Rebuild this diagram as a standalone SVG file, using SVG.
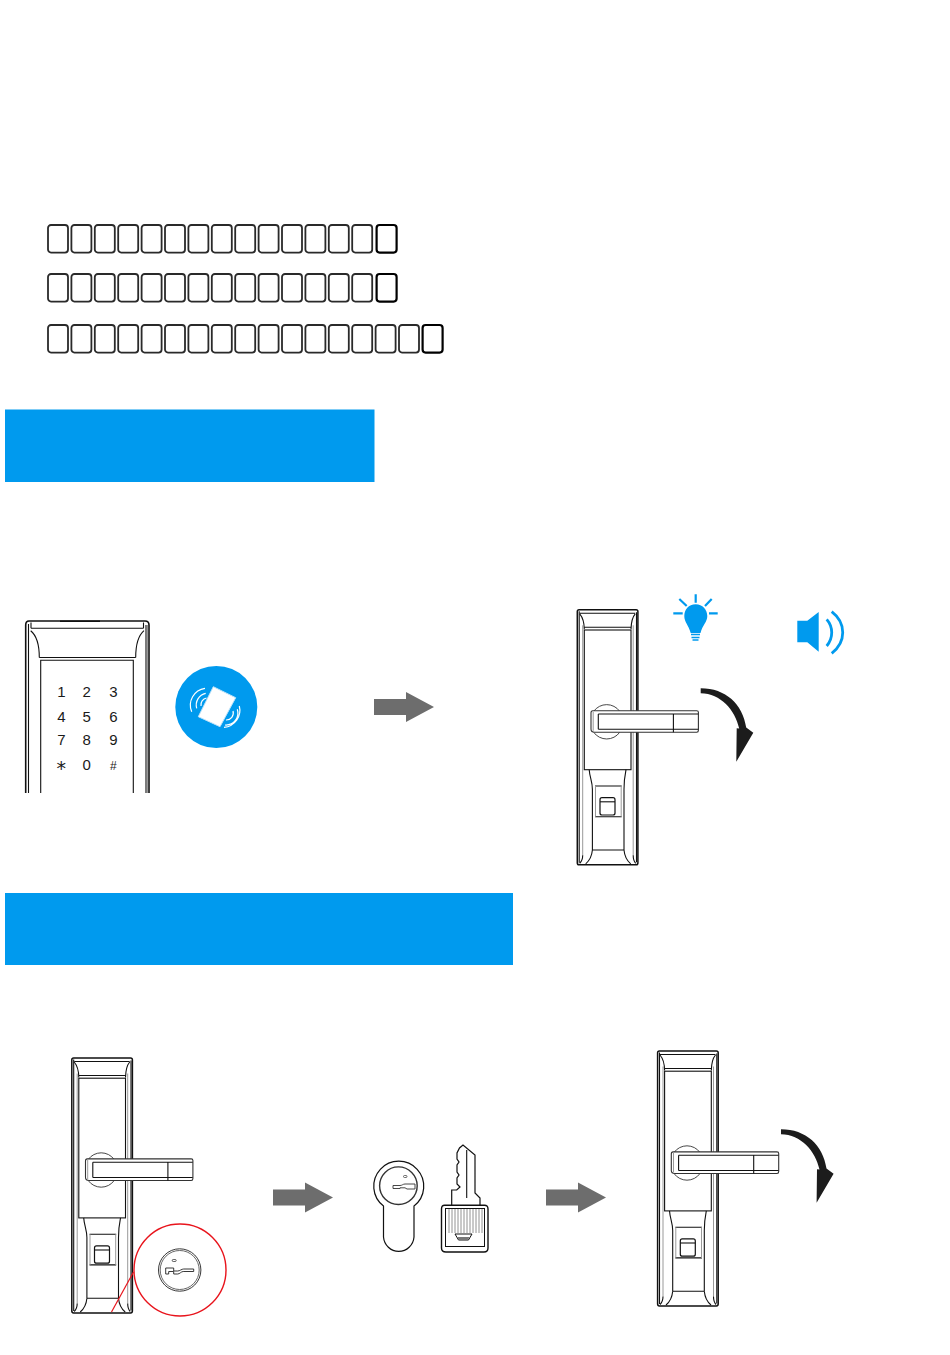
<svg xmlns="http://www.w3.org/2000/svg" xmlns:xlink="http://www.w3.org/1999/xlink" width="950" height="1355" viewBox="0 0 950 1355">
<style>
.l{fill:none;stroke:#111;stroke-width:1.1}
.t{fill:none;stroke:#999;stroke-width:1}
.b{fill:#009AEE}
.box{fill:#fff;stroke:#2a2a2a;stroke-width:1.800}
.last{stroke:#000;stroke-width:2.200}
.ar{fill:#6d6d6d}
.k{font-family:"Liberation Sans",Arial,sans-serif;font-size:15px;fill:#1a1a1a;text-anchor:middle}
.w{fill:none;stroke:#fff;stroke-width:1.200}
.bl{fill:none;stroke:#009AEE;stroke-width:2.200}
.sp{fill:none;stroke:#009AEE;stroke-width:2.800}
</style>
<defs>
<rect id="bx" width="20" height="27.600" rx="3" class="box"/>
<rect id="bxl" width="20" height="27.600" rx="3" class="box last"/>
<path id="ga" class="ar" d="M0-8H32V-15L60 0 32 15V8H0Z"/>
<path id="turn" fill="#1c1c1c" d="M0-1.800C25-1.800 42 14 45.500 37.500L52.600 42.700 35.600 71.700 36 38.300 38.500 38.600C34.500 20 20 3.500 0 3.200Z"/>
<g id="lock">
<rect x=".6" y=".4" width="60.600" height="255" rx="1.800" fill="#fff" stroke="#111" stroke-width="1.500"/>
<path class="l" d="M2.500 2V253.500M59.800 3V253"/>
<path class="t" d="M6 16V246M56.500 16V246"/>
<path class="l" d="M3 4H58.500M7 18H54.500M3 4.500C6 8 7.500 12 7.600 20M58.500 4.500C55.500 8 54.500 12 54.300 20"/>
<rect x="7.600" y="20.700" width="46.700" height="139.700" fill="#fff" stroke="#111" stroke-width="1.100"/>
<path class="l" d="M12.500 160.400C13 168 15.700 172 15.700 180V240.700M49.300 160.400C47.800 168 47.300 172 47.300 180V240.700"/>
<path class="l" d="M15.700 240.700H47.300M15.700 240.700C15 248 12 252 9 254.500M47.300 240.700C48 248 51 252 54 254.500M6 246C6 250 5 252 3 254M56.500 246C56.500 250 57 252 59 254"/>
<path d="M18.300 176.700H45M18.300 207.400H45" fill="none" stroke="#111" stroke-width="1.100"/>
<path class="t" d="M18.800 176.700V207.400M44.500 176.700V207.400"/>
<rect x="23.300" y="188.400" width="15" height="17.300" rx="2" fill="#fff" stroke="#111" stroke-width="1.200"/>
<path class="l" d="M23.300 192.500H38.300"/>
<path d="M17 102A16 16 0 0 1 43 102M17 123A16 16 0 0 0 43 123" fill="#fff" stroke="#333" stroke-width=".9"/>
<path d="M14.300 103.500Q14.300 101.400 16 101.400H120Q121.700 101.400 121.700 103V121Q121.700 123 120 123H18Q14.300 123 14.300 120Z" fill="#fff" stroke="#333" stroke-width="1.100"/>
<path class="l" d="M21.600 104.700V120M21.600 104.700H121.500M21.600 120H121.500M96.700 104.700V123"/>
<path class="t" d="M16.500 102.500V121.500"/>
</g>
<g id="keyhole">
<circle r="21.200" fill="#fff" stroke="#222" stroke-width=".9"/>
<circle r="19.500" fill="none" stroke="#555" stroke-width=".9"/>
<path d="M-14-2H-6V1H-2C0 1 2-1 4-1H14V1.500H3.500C1.500 1.500 0 4-2 4H-6V1.500H-11V4H-14Z" fill="#fff" stroke="#222" stroke-width=".9"/>
<rect x="-7.500" y="-10.500" width="4" height="2" rx="1" fill="#fff" stroke="#222" stroke-width=".7"/>
</g>
</defs>
<rect width="950" height="1355" fill="#fff"/>

<g id="text-boxes">
<g id="row1">
<use xlink:href="#bx" x="48" y="225"/><use xlink:href="#bx" x="71.400" y="225"/><use xlink:href="#bx" x="94.800" y="225"/><use xlink:href="#bx" x="118.200" y="225"/><use xlink:href="#bx" x="141.600" y="225"/><use xlink:href="#bx" x="165" y="225"/><use xlink:href="#bx" x="188.400" y="225"/><use xlink:href="#bx" x="211.800" y="225"/><use xlink:href="#bx" x="235.200" y="225"/><use xlink:href="#bx" x="258.600" y="225"/><use xlink:href="#bx" x="282" y="225"/><use xlink:href="#bx" x="305.400" y="225"/><use xlink:href="#bx" x="328.800" y="225"/><use xlink:href="#bx" x="352.200" y="225"/><use xlink:href="#bxl" x="376.600" y="225"/>
</g>
<g id="row2">
<use xlink:href="#bx" x="48" y="274"/><use xlink:href="#bx" x="71.400" y="274"/><use xlink:href="#bx" x="94.800" y="274"/><use xlink:href="#bx" x="118.200" y="274"/><use xlink:href="#bx" x="141.600" y="274"/><use xlink:href="#bx" x="165" y="274"/><use xlink:href="#bx" x="188.400" y="274"/><use xlink:href="#bx" x="211.800" y="274"/><use xlink:href="#bx" x="235.200" y="274"/><use xlink:href="#bx" x="258.600" y="274"/><use xlink:href="#bx" x="282" y="274"/><use xlink:href="#bx" x="305.400" y="274"/><use xlink:href="#bx" x="328.800" y="274"/><use xlink:href="#bx" x="352.200" y="274"/><use xlink:href="#bxl" x="376.600" y="274"/>
</g>
<g id="row3">
<use xlink:href="#bx" x="48" y="325"/><use xlink:href="#bx" x="71.400" y="325"/><use xlink:href="#bx" x="94.800" y="325"/><use xlink:href="#bx" x="118.200" y="325"/><use xlink:href="#bx" x="141.600" y="325"/><use xlink:href="#bx" x="165" y="325"/><use xlink:href="#bx" x="188.400" y="325"/><use xlink:href="#bx" x="211.800" y="325"/><use xlink:href="#bx" x="235.200" y="325"/><use xlink:href="#bx" x="258.600" y="325"/><use xlink:href="#bx" x="282" y="325"/><use xlink:href="#bx" x="305.400" y="325"/><use xlink:href="#bx" x="328.800" y="325"/><use xlink:href="#bx" x="352.200" y="325"/><use xlink:href="#bx" x="375.600" y="325"/><use xlink:href="#bx" x="399" y="325"/><use xlink:href="#bxl" x="422.600" y="325"/>
</g>
</g>

<g id="banner-1"><rect class="b" x="5" y="409.500" width="369.500" height="72.500"/></g>
<g id="banner-2"><rect class="b" x="5" y="893" width="508" height="72"/></g>

<g id="keypad-lock">
<path d="M25.700 793V625Q25.700 621 29 621H145Q149 621 149 625V793" fill="#fff" stroke="#111" stroke-width="1.600"/>
<path class="l" d="M28.500 624V793M146 625V793M31 628.300H143.500M31 622.500V628.300M143.500 622.500V628.300"/>
<path class="t" d="M147.500 625V793"/>
<path class="l" d="M30.700 630.700C36 635 39.300 645 39.300 657.500M144 630.700C139 635 135.700 645 135.700 657.500M39.300 657.500H135.700"/>
<path class="l" d="M40.700 793V660.300H133.300V793"/>
<path d="M60 621.300H100" stroke="#111" stroke-width="1.600" fill="none"/>
<text class="k" x="61.300" y="697">1</text><text class="k" x="86.700" y="697">2</text><text class="k" x="113.300" y="697">3</text>
<text class="k" x="61.300" y="721.500">4</text><text class="k" x="86.700" y="721.500">5</text><text class="k" x="113.300" y="721.500">6</text>
<text class="k" x="61.300" y="745">7</text><text class="k" x="86.700" y="745">8</text><text class="k" x="113.300" y="745">9</text>
<text class="k" x="61.300" y="775" style="font-family:'DejaVu Sans',sans-serif;font-size:19px">*</text><text class="k" x="86.700" y="770">0</text><text class="k" x="113.300" y="769.500" style="font-size:12px">#</text>
</g>

<g id="card-icon">
<circle class="b" cx="216.300" cy="707" r="41"/>
<path d="M213.300 686.700L235.700 697.700 220 726.700 198.300 716.700Z" fill="#fff" stroke="#bfe3f9" stroke-width="1"/>
<path class="w" d="M205 688.300A17 17 0 0 0 191.700 711.700M205.700 693.300A12 12 0 0 0 196.700 708.300M206.500 698A7 7 0 0 0 201 706"/>
<path class="w" d="M239.300 706A17 17 0 0 1 224 727.300M237.300 709.300A12 12 0 0 1 225 725M233 711A7 7 0 0 1 226 720"/>
</g>

<g id="bulb">
<path class="b" d="M695.700 604.300C702.500 604.300 707.300 610 707.300 616C707.300 622 702.500 625 700.500 633H690.700C688.500 625 684.300 622 684.300 616C684.300 610 688.500 604.300 695.700 604.300Z"/>
<path class="bl" d="M695.700 594.300V602.700M679.300 599L686.700 606M711.700 599L705 606M673.300 613.300H682.700M709 613.300H717.700"/>
<path class="bl" d="M691 634.500H700M691.500 637.500H699.500M692.500 640H698.500" style="stroke-width:1.600"/>
</g>

<g id="speaker">
<path class="b" d="M797.300 620.700H807.300L818.700 612V651.700L807.300 642.300H797.300Z"/>
<path class="sp" d="M826.700 619.300C833.400 627 833.400 638 826.700 646"/>
<path class="sp" d="M831.700 611.700C846.400 623 846.400 642 831.700 653.300"/>
</g>

<g id="lock-open-1" transform="translate(576.700 609.300)"><use xlink:href="#lock"/></g>

<g id="lock-key-start" transform="translate(71.200 1057.500)"><use xlink:href="#lock"/></g>

<g id="lock-open-2" transform="translate(657 1050.500)"><use xlink:href="#lock"/></g>

<g id="keyhole-callout">
<circle cx="180" cy="1270" r="46" fill="#fff" stroke="#e8141c" stroke-width="1.400"/>
<path d="M111.500 1312L133.500 1272" fill="none" stroke="#e8141c" stroke-width="1.200"/>
<use xlink:href="#keyhole" x="179.700" y="1270"/>
</g>

<g id="cylinder">
<path d="M383.500 1206A25 25 0 1 1 414 1206V1237A15.300 15.700 0 0 1 383.500 1237Z" fill="#fff" stroke="#111" stroke-width="1.200"/>
<circle cx="398.400" cy="1185.700" r="18.800" fill="none" stroke="#333" stroke-width="1.400"/>
<path d="M393 1185.500H400C402 1185.500 403 1184 405 1184H415V1189H407L405 1187.800H400V1188.500H393Z" fill="#fff" stroke="#333" stroke-width=".9"/>
<rect x="403.500" y="1175.500" width="3.500" height="2" rx="1" fill="none" stroke="#333" stroke-width=".7"/>
</g>

<g id="key">
<path d="M451.700 1207V1190H456.700L460 1187 457 1184V1178L459 1175 457 1172V1165L459 1162 457 1159V1153L459.500 1148 463 1145 475 1155V1193L480 1198V1207Z" fill="#fff" stroke="#111" stroke-width="1.200"/>
<path class="l" d="M466.700 1150V1198"/>
<path d="M441.500 1209Q441.500 1205 445 1205.300H484Q488 1205 488 1209V1248Q488 1252 484 1252H446Q441.500 1252 441.500 1248Z" fill="#fff" stroke="#111" stroke-width="1.400"/>
<rect x="445.500" y="1208.500" width="39" height="38" fill="none" stroke="#111" stroke-width="1"/>
<path d="M449 1209V1233M452 1209V1233M455 1209V1233M458 1209V1233M461 1209V1233M464 1209V1233M467 1209V1233M470 1209V1233M473 1209V1233M476 1209V1233M479 1209V1233M482 1209V1233" fill="none" stroke="#777" stroke-width=".8"/>
<path d="M455 1234H472L468.500 1240H458.500Z" fill="#fff" stroke="#111" stroke-width="1"/>
<path d="M457 1237H470L467.500 1240H459Z" fill="#777"/>
</g>

<g id="connectors">
<use xlink:href="#ga" x="374" y="707"/>
<use xlink:href="#ga" x="273" y="1197.500"/>
<use xlink:href="#ga" x="546" y="1197.500"/>
<use xlink:href="#turn" x="700.700" y="690"/>
<use xlink:href="#turn" x="781" y="1131"/>
</g>
</svg>
